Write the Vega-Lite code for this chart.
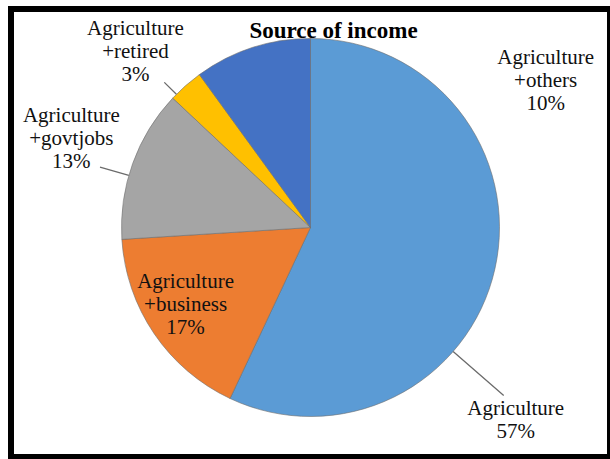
{
  "$schema": "https://vega.github.io/schema/vega-lite/v6.json",
  "width": 610,
  "height": 459,
  "autosize": {"type": "fit", "contains": "padding"},
  "padding": {"left": 11, "top": 9, "right": 0, "bottom": 2},
  "background": "white",
  "view": {"stroke": "black", "strokeWidth": 6, "fill": "white"},
  "config": {
    "font": "Liberation Serif, DejaVu Serif, serif",
    "text": {"font": "Liberation Serif, DejaVu Serif, serif"},
    "mark": {"font": "Liberation Serif, DejaVu Serif, serif"}
  },
  "title": {
    "text": "Source of income",
    "font": "Times New Roman, Times, Tinos, serif",
    "fontSize": 23,
    "fontWeight": "bold",
    "color": "black",
    "anchor": "middle",
    "frame": "group",
    "dx": 23,
    "dy": 10,
    "offset": -35,
    "baseline": "middle"
  },
  "data": {
    "values": [
      {"category": "Agriculture", "value": 57, "label": "Agriculture\n57%"},
      {"category": "Agriculture+business", "value": 17, "label": "Agriculture\n+business\n17%"},
      {"category": "Agriculture+govtjobs", "value": 13, "label": "Agriculture\n+govtjobs\n13%"},
      {"category": "Agriculture+retired", "value": 3, "label": "Agriculture\n+retired\n3%"},
      {"category": "Agriculture+others", "value": 10, "label": "Agriculture\n+others\n10%"}
    ]
  },
  "transform": [
    {"stack": "value", "groupby": [], "as": ["v0", "v1"]}
  ],
  "layer": [
    {
      "mark": {"type": "arc", "outerRadius": 189, "stroke": "#6f6f6f", "strokeWidth": 0.6, "yOffset": -5.5},
      "encoding": {
        "theta": {"field": "v0", "type": "quantitative", "stack": null, "scale": {"domain": [0, 100]}},
        "theta2": {"field": "v1"},
        "color": {
          "field": "category",
          "type": "nominal",
          "scale": {
            "domain": ["Agriculture", "Agriculture+business", "Agriculture+govtjobs", "Agriculture+retired", "Agriculture+others"],
            "range": ["#5B9BD5", "#ED7D31", "#A5A5A5", "#FFC000", "#4472C4"]
          },
          "legend": null
        }
      }
    },
    {
      "transform": [{"filter": "datum.category == 'Agriculture'"}],
      "mark": {"type": "arc", "innerRadius": 189, "outerRadius": 256, "thetaOffset": 2.2864, "theta2Offset": 2.2864, "fill": null, "stroke": "#6b6b6b", "strokeWidth": 1.3, "yOffset": -5.5},
      "encoding": {
        "theta": {"field": "v0", "type": "quantitative", "stack": null},
        "theta2": {"field": "v0"}
      }
    },
    {
      "transform": [{"filter": "datum.category == 'Agriculture+govtjobs'"}],
      "mark": {"type": "arc", "innerRadius": 189, "outerRadius": 219, "thetaOffset": 0.3421, "theta2Offset": 0.3421, "fill": null, "stroke": "#6b6b6b", "strokeWidth": 1.3, "yOffset": -5.5},
      "encoding": {
        "theta": {"field": "v0", "type": "quantitative", "stack": null},
        "theta2": {"field": "v0"}
      }
    },
    {
      "transform": [{"filter": "datum.category == 'Agriculture+retired'"}],
      "mark": {"type": "arc", "innerRadius": 189, "outerRadius": 206, "thetaOffset": 0.0279, "theta2Offset": 0.0279, "fill": null, "stroke": "#6b6b6b", "strokeWidth": 1.3, "yOffset": -5.5},
      "encoding": {
        "theta": {"field": "v0", "type": "quantitative", "stack": null},
        "theta2": {"field": "v0"}
      }
    },
    {
      "transform": [{"filter": "datum.category == 'Agriculture'"}],
      "mark": {"type": "text", "radius": 282, "thetaOffset": 2.3265, "font": "Liberation Serif, DejaVu Serif, serif", "fontSize": 21, "lineHeight": 23, "lineBreak": "\n", "align": "center", "baseline": "middle", "color": "#111111", "yOffset": -17},
      "encoding": {
        "theta": {"field": "v0", "type": "quantitative", "stack": null},
        "text": {"field": "label"}
      }
    },
    {
      "transform": [{"filter": "datum.category == 'Agriculture+business'"}],
      "mark": {"type": "text", "radius": 147, "thetaOffset": 0.576, "font": "Liberation Serif, DejaVu Serif, serif", "fontSize": 21, "lineHeight": 23, "lineBreak": "\n", "align": "center", "baseline": "middle", "color": "#111111", "yOffset": -28.5},
      "encoding": {
        "theta": {"field": "v0", "type": "quantitative", "stack": null},
        "text": {"field": "label"}
      }
    },
    {
      "transform": [{"filter": "datum.category == 'Agriculture+govtjobs'"}],
      "mark": {"type": "text", "radius": 255, "thetaOffset": 0.4171, "font": "Liberation Serif, DejaVu Serif, serif", "fontSize": 21, "lineHeight": 23, "lineBreak": "\n", "align": "center", "baseline": "middle", "color": "#111111", "yOffset": -28.5},
      "encoding": {
        "theta": {"field": "v0", "type": "quantitative", "stack": null},
        "text": {"field": "label"}
      }
    },
    {
      "transform": [{"filter": "datum.category == 'Agriculture+retired'"}],
      "mark": {"type": "text", "radius": 248, "thetaOffset": 0.0332, "font": "Liberation Serif, DejaVu Serif, serif", "fontSize": 21, "lineHeight": 23, "lineBreak": "\n", "align": "center", "baseline": "middle", "color": "#111111", "yOffset": -28.5},
      "encoding": {
        "theta": {"field": "v0", "type": "quantitative", "stack": null},
        "text": {"field": "label"}
      }
    },
    {
      "transform": [{"filter": "datum.category == 'Agriculture+others'"}],
      "mark": {"type": "text", "radius": 277, "thetaOffset": 1.6423, "font": "Liberation Serif, DejaVu Serif, serif", "fontSize": 21, "lineHeight": 23, "lineBreak": "\n", "align": "center", "baseline": "middle", "color": "#111111", "yOffset": -28.5},
      "encoding": {
        "theta": {"field": "v0", "type": "quantitative", "stack": null},
        "text": {"field": "label"}
      }
    }
  ]
}
